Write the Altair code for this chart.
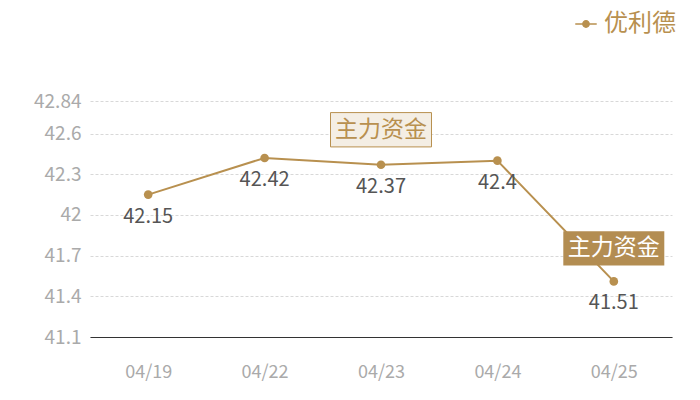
import altair as alt
import pandas as pd

dates = ["04/19", "04/22", "04/23", "04/24", "04/25"]
values = [42.15, 42.42, 42.37, 42.40, 41.51]
series_name = "优利德"
y_ticks = [41.1, 41.4, 41.7, 42.0, 42.3, 42.6, 42.84]
y_domain = [41.1, 42.84]
ann_light_dates = ["04/23"]
ann_light_values = [42.37]
ann_dark_dates = ["04/25"]
ann_dark_values = [41.51]
ann_text = "主力资金"

GOLD = "#b8904f"
FONT = "Noto Sans CJK SC"

df = pd.DataFrame({"date": dates, "value": values, "series": [series_name] * len(dates)})
light = pd.DataFrame({"date": ann_light_dates, "value": ann_light_values, "t": [ann_text] * len(ann_light_dates)})
dark = pd.DataFrame({"date": ann_dark_dates, "value": ann_dark_values, "t": [ann_text] * len(ann_dark_dates)})

x = alt.X("date:N", sort=dates, scale=alt.Scale(type="point", padding=0.5),
          axis=alt.Axis(title=None, labelAngle=0, labelColor="#aaaaaa", labelFontSize=18,
                        labelFont=FONT, labelPadding=26, domainColor="#333333", domainWidth=1.2,
                        ticks=False, grid=False, labelOverlap=False))
y = alt.Y("value:Q", scale=alt.Scale(domain=y_domain, nice=False, zero=False),
          axis=alt.Axis(title=None, values=y_ticks, tickCount=20, labelColor="#aaaaaa", labelFontSize=19,
                        labelFont=FONT, labelPadding=9, domain=False, ticks=False,
                        labelOverlap=False, labelBound=False,
                        gridColor="#d8d8d8", gridDash=[3, 2], gridWidth=1,
                        labelExpr="format(datum.value, '')"))

box_shape = "M-1,-0.34 L1,-0.34 L1,0.34 L-1,0.34 Z"
legend_shape = "M-1.2,0 L-0.35,0 M0.35,0 L1.2,0 M-0.35,0 A0.35,0.35 0 1,1 0.35,0 A0.35,0.35 0 1,1 -0.35,0 Z"

line = alt.Chart(df).mark_line(strokeWidth=2, point=alt.OverlayMarkDef(size=75, filled=True, opacity=1)).encode(
    x=x, y=y,
    color=alt.Color("series:N", scale=alt.Scale(range=[GOLD]),
                    legend=alt.Legend(title=None, orient="none", legendX=484, legendY=-89,
                                      labelFont=FONT, labelFontSize=24, labelColor=GOLD,
                                      labelLimit=200, labelOffset=6,
                                      symbolType=legend_shape, symbolSize=320, symbolStrokeWidth=1.5,
                                      symbolFillColor=GOLD, symbolStrokeColor=GOLD)))

labels = alt.Chart(df).mark_text(dy=22, fontSize=20, font=FONT, color="#555555").encode(
    x=alt.X("date:N", sort=dates), y="value:Q", text=alt.Text("value:Q", format=""))

box1 = alt.Chart(light).mark_point(shape=box_shape, size=10200, filled=True, fill="#f4eee4",
                                   stroke=GOLD, strokeWidth=1, opacity=1, yOffset=-35).encode(
    x=alt.X("date:N", sort=dates), y="value:Q")
text1 = alt.Chart(light).mark_text(dy=-35, fontSize=23, font=FONT, color=GOLD).encode(
    x=alt.X("date:N", sort=dates), y="value:Q", text="t:N")

box2 = alt.Chart(dark).mark_point(shape=box_shape, size=10200, filled=True, fill="#b38d52",
                                  strokeWidth=0, opacity=1, yOffset=-33).encode(
    x=alt.X("date:N", sort=dates), y="value:Q")
text2 = alt.Chart(dark).mark_text(dy=-33, fontSize=23, font=FONT, color="#ffffff").encode(
    x=alt.X("date:N", sort=dates), y="value:Q", text="t:N")

chart = alt.layer(line, labels, box1, text1, box2, text2).properties(
    width=582, height=236,
    autosize=alt.AutoSizeParams(type="none"),
    padding={"left": 82, "top": 93, "right": 20, "bottom": 48},
    background="#ffffff",
).configure_view(stroke=None, strokeWidth=0)

chart.save("out.html", embed_options={"renderer": "svg", "actions": False})
